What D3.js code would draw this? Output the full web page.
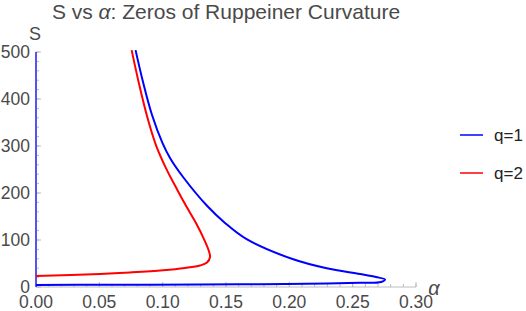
<!DOCTYPE html>
<html>
<head>
<meta charset="utf-8">
<script src="https://cdn.jsdelivr.net/npm/d3@7"></script>
<style>
  body { margin: 0; background: #fff; }
  svg { display: block; font-family: "Liberation Sans", Arial, sans-serif; }
</style>
</head>
<body>
<svg></svg>
<script>
// q=1 branch (alpha, S): upper branch, the tip, then the lower branch
const blueAlpha = [0.0786, 0.0845, 0.0916, 0.0999, 0.1058, 0.1161, 0.1350, 0.1492, 0.1663, 0.2031, 0.2295, 0.2558, 0.2684, 0.2755, 0.2724, 0.2558, 0.2295, 0.1768, 0.1295, 0.0505, 0.0000];
const blueS     = [504,    436,    366,    306,    274.5,  234,    172.8,  136.4,  101.7,  58.9,   39.8,   27.7,   21.3,   16,     10.6,   8.9,    7.4,    6.0,    5.3,    4.7,    4.3];

// q=2 branch
const redAlpha = [0.0755, 0.0817, 0.0880, 0.0947, 0.1026, 0.1117, 0.1190, 0.1263, 0.1326, 0.1362, 0.1374, 0.1350, 0.1295, 0.1176, 0.1003, 0.0742, 0.0505, 0.0000];
const redS     = [504,    428,    360,    302,    253,    206,    170,    136,    102,    78.7,   63.8,   52.1,   45.7,   40.4,   35.5,   30.9,   27.7,   23.4];

const xTicks = [0, 0.05, 0.1, 0.15, 0.2, 0.25, 0.3];
const yTicks = [0, 100, 200, 300, 400, 500];
const seriesNames = ['q=1', 'q=2'];
const seriesColors = ['#0000ff', '#ff0000'];

const svg = d3.select('svg').attr('width', 526).attr('height', 311);

const x = d3.scaleLinear().domain([0, 0.3]).range([36, 416]);
const y = d3.scaleLinear().domain([0, 500]).range([287, 52]);

const axisColor = '#bcbcbc';
const labelColor = '#4a4a4a';

// x axis: minor ticks every 0.01, major every 0.05, pointing up
const xAxis = svg.append('g').attr('transform', `translate(0, ${y(0)})`);
xAxis.append('line').attr('x1', x(0)).attr('x2', x(0.3)).attr('stroke', axisColor);
xAxis.selectAll('.minor').data(d3.range(0, 0.3001, 0.01))
  .enter().append('line')
    .attr('x1', d => x(d)).attr('x2', d => x(d))
    .attr('y1', 0).attr('y2', -3)
    .attr('stroke', axisColor);
xAxis.selectAll('.major').data(xTicks)
  .enter().append('line')
    .attr('x1', d => x(d)).attr('x2', d => x(d))
    .attr('y1', 0).attr('y2', -5)
    .attr('stroke', axisColor);
xAxis.selectAll('text').data(xTicks)
  .enter().append('text')
    .attr('x', d => x(d)).attr('y', 21)
    .attr('text-anchor', 'middle')
    .attr('font-size', 17.5).attr('fill', labelColor)
    .text(d3.format('.2f'));

// y axis (the frame line at alpha = 0 shows bluish in the original)
const yAxis = svg.append('g').attr('transform', `translate(${x(0)}, 0)`);
yAxis.selectAll('.minor').data(d3.range(0, 501, 20))
  .enter().append('line')
    .attr('y1', d => y(d)).attr('y2', d => y(d))
    .attr('x1', 0).attr('x2', 3)
    .attr('stroke', axisColor);
yAxis.selectAll('.major').data(yTicks)
  .enter().append('line')
    .attr('y1', d => y(d)).attr('y2', d => y(d))
    .attr('x1', 0).attr('x2', 5)
    .attr('stroke', axisColor);
yAxis.append('line')
  .attr('y1', y(0)).attr('y2', y(500))
  .attr('stroke', '#5555ee').attr('stroke-width', 2);
yAxis.selectAll('text').data(yTicks)
  .enter().append('text')
    .attr('x', -6).attr('y', d => y(d))
    .attr('dy', '0.36em')
    .attr('text-anchor', 'end')
    .attr('font-size', 17.5).attr('fill', labelColor)
    .text(d => d);

// axis labels
svg.append('text').attr('x', 35).attr('y', 40)
  .attr('text-anchor', 'middle').attr('font-size', 18).attr('fill', labelColor).text('S');
svg.append('text').attr('x', 434).attr('y', 295)
  .attr('text-anchor', 'middle').attr('font-size', 20).attr('font-style', 'italic')
  .attr('fill', labelColor).text('α');

// title
const title = svg.append('text').attr('x', 226).attr('y', 19)
  .attr('text-anchor', 'middle').attr('font-size', 21).attr('fill', labelColor);
title.append('tspan').text('S vs ');
title.append('tspan').attr('font-style', 'italic').text('α');
title.append('tspan').text(': Zeros of Ruppeiner Curvature');

// curves
const series = [
  blueAlpha.map((a, i) => [a, blueS[i]]),
  redAlpha.map((a, i) => [a, redS[i]])
];
const line = d3.line()
  .x(d => x(d[0]))
  .y(d => y(d[1]))
  .curve(d3.curveCatmullRom.alpha(0.5));

svg.append('g').selectAll('path').data(series)
  .enter().append('path')
    .attr('d', line)
    .attr('fill', 'none')
    .attr('stroke', (d, i) => seriesColors[i])
    .attr('stroke-width', 2);

// legend
const legend = svg.append('g').selectAll('g').data(seriesNames)
  .enter().append('g')
    .attr('transform', (d, i) => `translate(460, ${135 + i * 38})`);
legend.append('line').attr('x1', 0).attr('x2', 23)
  .attr('stroke', (d, i) => seriesColors[i]).attr('stroke-width', 1.5);
legend.append('text').attr('x', 34).attr('dy', '0.36em')
  .attr('font-size', 17).attr('fill', '#222').text(d => d);
</script>
</body>
</html>
